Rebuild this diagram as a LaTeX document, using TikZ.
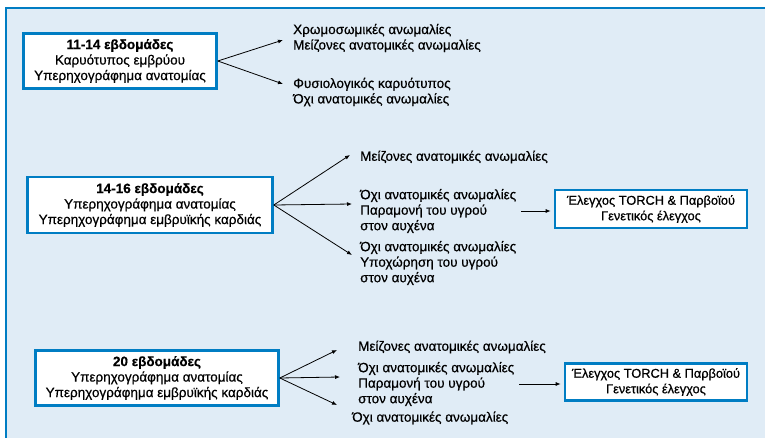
\documentclass[tikz,border=0pt]{standalone}
\usepackage{fontspec}
\setmainfont{Liberation Sans}[FakeBold=0.6]
\definecolor{myblue}{RGB}{0,125,195}
\definecolor{mybg}{RGB}{224,236,246}
\usetikzlibrary{arrows.meta,positioning,calc}

\begin{document}
\begin{tikzpicture}[x=1pt,y=-1pt,
    every node/.style={font=\fontsize{13.5}{15.5}\selectfont},
    weekbox/.style={draw=myblue,line width=2.6pt,fill=white,align=center,inner sep=0pt},
    testbox/.style={weekbox,font=\fontsize{12.8}{15.5}\selectfont},
    outcome/.style={anchor=west,align=left,inner sep=0pt},
    arr/.style={-{Latex[length=5pt,width=4pt]},line width=0.8pt,black}
    ]
    \useasboundingbox (0,0) rectangle (765,438);

    % the frame
    \fill[mybg] (6,8) rectangle (765,438);
    \draw[myblue,line width=2pt] (6,438) -- (6,8) -- (765,8);

    % 11-14 weeks
    \node[weekbox,minimum width=193pt,minimum height=55pt] (b1) at (120,61)
        {\textbf{11-14 εβδομάδες}\\Καρυότυπος εμβρύου\\Υπερηχογράφημα ανατομίας};
    \node[outcome] (t1) at (293,38) {Χρωμοσωμικές ανωμαλίες\\Μείζονες ανατομικές ανωμαλίες};
    \node[outcome] (t2) at (293,92) {Φυσιολογικός καρυότυπος\\Όχι ανατομικές ανωμαλίες};
    \coordinate (a1) at (283,40);
    \coordinate (a2) at (283,84);

    % 14-16 weeks
    \node[weekbox,minimum width=245pt,minimum height=56pt] (b2) at (150,205)
        {\textbf{14-16 εβδομάδες}\\Υπερηχογράφημα ανατομίας\\Υπερηχογράφημα εμβρυϊκής καρδιάς};
    \node[outcome] (t3) at (360,157) {Μείζονες ανατομικές ανωμαλίες};
    \node[outcome] (t4) at (360,211) {Όχι ανατομικές ανωμαλίες\\Παραμονή του υγρού\\στον αυχένα};
    \node[outcome] (t5) at (360,263) {Όχι ανατομικές ανωμαλίες\\Υποχώρηση του υγρού\\στον αυχένα};
    \node[testbox,minimum width=192pt,minimum height=38pt] (b3) at (651,209)
        {Έλεγχος TORCH \& Παρβοϊού\\Γενετικός έλεγχος};
    \coordinate (a3) at (350,155);
    \coordinate (a4) at (352,204);
    \coordinate (a5) at (352,255);

    % 20 weeks
    \node[weekbox,minimum width=243pt,minimum height=55pt] (b4) at (157,378)
        {\textbf{20 εβδομάδες}\\Υπερηχογράφημα ανατομίας\\Υπερηχογράφημα εμβρυϊκής καρδιάς};
    \node[outcome] (t6) at (358,347) {Μείζονες ανατομικές ανωμαλίες};
    \node[outcome] (t7) at (358,384) {Όχι ανατομικές ανωμαλίες\\Παραμονή του υγρού\\στον αυχένα};
    \node[outcome] (t8) at (352,418) {Όχι ανατομικές ανωμαλίες};
    \node[testbox,minimum width=182pt,minimum height=37pt] (b5) at (656,382)
        {Έλεγχος TORCH \& Παρβοϊού\\Γενετικός έλεγχος};
    \coordinate (a6) at (337,350);
    \coordinate (a7) at (340,377);
    \coordinate (a8) at (337,405);

    % the arrows
    \draw[arr] (b1.east) -- (a1);
    \draw[arr] (b1.east) -- (a2);
    \draw[arr] (b2.east) -- (a3);
    \draw[arr] (b2.east) -- (a4);
    \draw[arr] (b2.east) -- (a5);
    \draw[arr,shorten <=5pt,shorten >=3pt] (t4.east) -- (t4.east -| b3.west);
    \draw[arr] (b4.east) -- (a6);
    \draw[arr] (b4.east) -- (a7);
    \draw[arr] (b4.east) -- (a8);
    \draw[arr,shorten <=5pt,shorten >=3pt] (t7.east) -- (t7.east -| b5.west);
\end{tikzpicture}
\end{document}
